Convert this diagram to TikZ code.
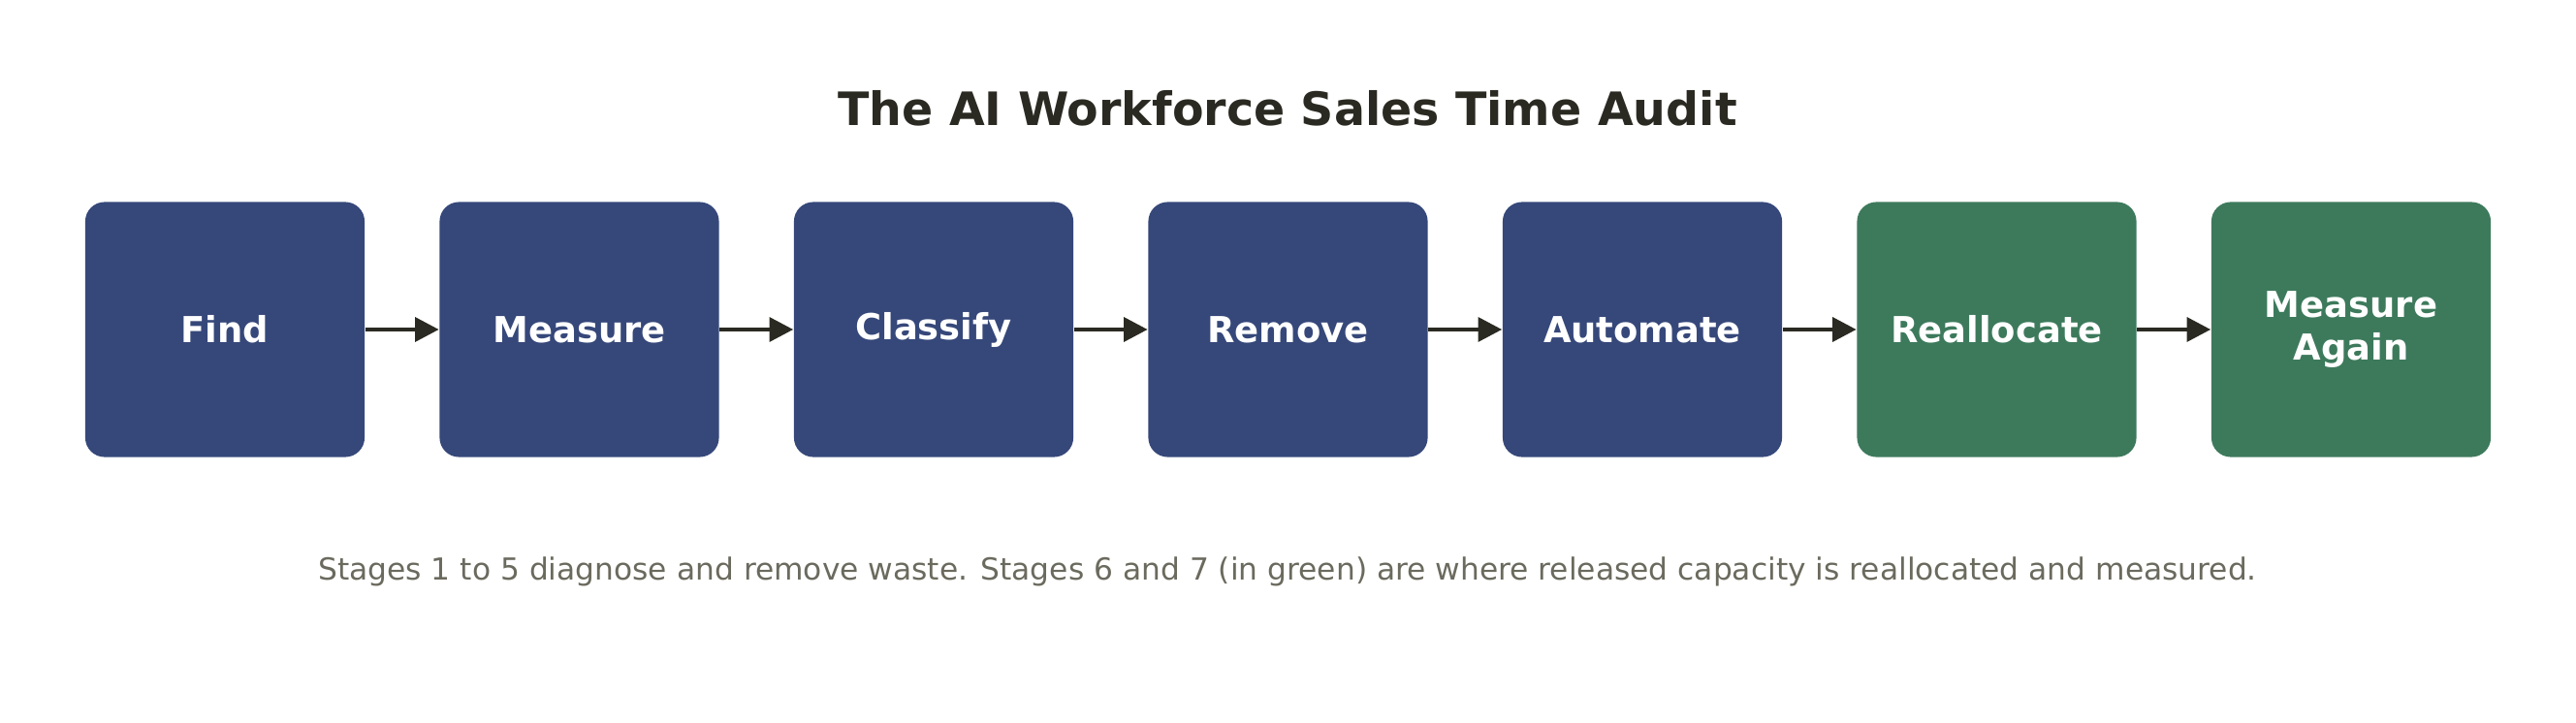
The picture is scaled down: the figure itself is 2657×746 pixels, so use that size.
\documentclass[tikz,border=0pt]{standalone}
\usepackage{fontspec}
\setmainfont{DejaVu Sans}
\usetikzlibrary{arrows.meta}
\definecolor{bluebox}{HTML}{36487A}
\definecolor{greenbox}{HTML}{3D7A5C}
\definecolor{ink}{HTML}{2B2A22}
\definecolor{capt}{HTML}{6B6A5E}
\begin{document}
\begin{tikzpicture}[x=0.01cm,y=-0.01cm,
  stage/.style={rounded corners=2mm,minimum width=2.88cm,minimum height=2.63cm,text=white,font=\fontsize{10.5}{12.5}\selectfont\bfseries,align=center,inner sep=0pt},
  blue/.style={stage,fill=bluebox},
  green/.style={stage,fill=greenbox},
  arr/.style={draw=ink,line width=1.3pt,-{Triangle[length=7pt,width=7pt]}}]
\useasboundingbox (0,0) rectangle (2657,746);
\node[font=\fontsize{13.5}{16}\selectfont\bfseries,text=ink] (title) at (1328,112) {The AI Workforce Sales Time Audit};
\node[blue] (s1) at (232,340) {Find};
\node[blue] (s2) at (597.5,340) {Measure};
\node[blue] (s3) at (963,340) {Classify};
\node[blue] (s4) at (1328.5,340) {Remove};
\node[blue] (s5) at (1694,340) {Automate};
\node[green] (s6) at (2059.5,340) {Reallocate};
\node[green] (s7) at (2425,340) {Measure\\Again};
\foreach \a/\b in {s1/s2,s2/s3,s3/s4,s4/s5,s5/s6,s6/s7}
  \draw[arr] (\a.east) -- (\b.west);
\node[font=\fontsize{8.9}{11}\selectfont,text=capt] (cap) at (1328,590) {Stages 1 to 5 diagnose and remove waste. Stages 6 and 7 (in green) are where released capacity is reallocated and measured.};
\end{tikzpicture}
\end{document}
